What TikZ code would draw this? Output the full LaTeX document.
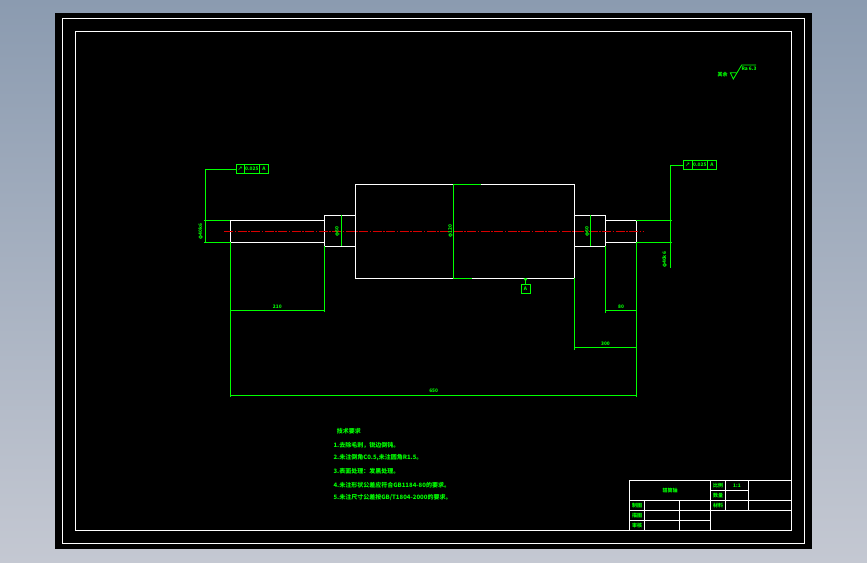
\documentclass[tikz,border=0pt]{standalone}
\usepackage{fontspec}
\usetikzlibrary{positioning}
\setmainfont{Noto Sans CJK SC}
\definecolor{bgtop}{RGB}{139,155,176}
\definecolor{bgbottom}{RGB}{196,200,210}
\tikzset{
	part/.style={draw=white,line width=1pt},
	dimline/.style={draw=green,line width=1pt},
	axisline/.style={draw=red!85!black,line width=.9pt,dash pattern=on 9pt off 1.5pt on 1.5pt off 1.5pt},
	dimtext/.style={text=green,font=\bfseries\fontsize{4.8}{5}\selectfont,inner sep=0pt},
	notetext/.style={text=green,font=\bfseries\fontsize{6}{7}\selectfont,inner sep=0pt,anchor=west},
	titletext/.style={text=green,font=\bfseries\fontsize{5}{6}\selectfont,inner sep=0pt},
	tolcell/.style={draw=green,line width=1pt,minimum height=9.4pt,inner sep=0pt,outer sep=0pt,text=green,font=\bfseries\fontsize{4.8}{5}\selectfont,anchor=west},
}
\begin{document}
\begin{tikzpicture}[x=1pt,y=-1pt]
	\useasboundingbox (0,0) rectangle (867,562);
	\fill[top color=bgtop,bottom color=bgbottom] (0,0) rectangle (867,562);
	\fill[black] (55,13) rectangle (812,549);
	\draw[part] (62,18.5) rectangle (804.5,543.5);
	\draw[part] (75.5,31.5) rectangle (791,530);
	% shaft
	\draw[part] (230.3,220.3) rectangle (324.3,242.3);
	\draw[part] (324.3,215.3) rectangle (355.3,246.3);
	\draw[part] (355.3,184.3) rectangle (574.3,278.3);
	\draw[part] (574.3,215.3) rectangle (605.3,246.3);
	\draw[part] (605.3,220.3) rectangle (636.3,242.3);
	\draw[axisline] (224,231.3)--(642.7,231.3);
	% diameters
	\draw[dimline] (204,220.3)--(230.3,220.3);
	\draw[dimline] (204,242.3)--(230.3,242.3);
	\draw[dimline] (341.3,215.3)--(341.3,246.3);
	\draw[dimline] (453.3,184.3)--(453.3,278.3);
	\draw[dimline] (453.3,184.3)--(481,184.3);
	\draw[dimline] (453.3,278.3)--(471.7,278.3);
	\draw[dimline] (590.3,215.3)--(590.3,246.3);
	\draw[dimline] (636.3,220.3)--(672,220.3);
	\draw[dimline] (636.3,242.3)--(672,242.3);
	\node[dimtext,rotate=90] (dleft) at (200.7,231.5){φ40k6};
	\node[dimtext,rotate=90] (dneck) at (337.3,231.3){φ60};
	\node[dimtext,rotate=90] (dbody) at (450.5,231.3){φ120};
	\node[dimtext,rotate=90] (dneckr) at (587.3,231.3){φ60};
	\node[dimtext,rotate=90] (dright) at (664.7,260){φ40k6};
	% lengths
	\draw[dimline] (230.3,242.3)--(230.3,397);
	\draw[dimline] (324.3,246.3)--(324.3,311.5);
	\draw[dimline] (230.3,310.3)--(324.3,310.3);
	\draw[dimline] (605.3,246.3)--(605.3,312.5);
	\draw[dimline] (605.3,310.3)--(636.3,310.3);
	\draw[dimline] (574.3,278.3)--(574.3,349.5);
	\draw[dimline] (574.3,347.3)--(636.3,347.3);
	\draw[dimline] (636.3,242.3)--(636.3,397);
	\draw[dimline] (230.3,395)--(636.3,395);
	\node[dimtext] (len210) at (277.3,306.8){210};
	\node[dimtext] (len80) at (621,306.5){80};
	\node[dimtext] (len300) at (605.5,343.8){300};
	\node[dimtext] (len650) at (433.7,391){650};
	% tolerance frames
	\node[tolcell,minimum width=8.3pt] (tola) at (236,169){↗};
	\node[tolcell,minimum width=15pt,right=0pt of tola] (tolb) {0.025};
	\node[tolcell,minimum width=9.4pt,right=0pt of tolb] (tolc) {A};
	\node[tolcell,minimum width=9pt] (tord) at (683.3,165){↗};
	\node[tolcell,minimum width=15pt,right=0pt of tord] (tore) {0.025};
	\node[tolcell,minimum width=9.4pt,right=0pt of tore] (torf) {A};
	\draw[dimline] (tola.west)-|(205.5,242.3);
	\draw[dimline] (tord.west)-|(670.3,267.7);
	% datum
	\node[tolcell,minimum width=9pt,minimum height=9.6pt,anchor=center] (datum) at (525.5,288.8){A};
	\coordinate (datumtop) at (525.5,278.3);
	\draw[dimline] (datum)--(datumtop);
	\fill[green] (523.5,278.3)--(527.5,278.3)--(525.5,281.5)--cycle;
	% roughness
	\node[titletext] (rest) at (722.5,75){其余};
	\node[dimtext] (rough) at (749,68.7){Ra 6.3};
	\draw[dimline,line width=.8pt] (736.2,72.7)--(730.3,72.7)--(733.3,79)--(741.7,65)--(756,65);
	% notes
	\node[notetext] (head) at (336.7,431.7){技术要求};
	\node[notetext] (noa) at (333.3,445){1.去除毛刺，锐边倒钝。};
	\node[notetext] (nob) at (333.3,458){2.未注倒角C0.5,未注圆角R1.5。};
	\node[notetext] (noc) at (333.3,471.6){3.表面处理：发黑处理。};
	\node[notetext] (nod) at (333.3,484.8){4.未注形状公差应符合GB1184-80的要求。};
	\node[notetext] (noe) at (333.3,497.7){5.未注尺寸公差按GB/T1804-2000的要求。};
	% title block
	\draw[part] (629.3,480.3) rectangle (791,530);
	\draw[part] (710.7,480.3)--(710.7,530);
	\draw[part] (725.3,480.3)--(725.3,510.3);
	\draw[part] (748.3,480.3)--(748.3,510.3);
	\draw[part] (710.7,490.3)--(748.3,490.3);
	\draw[part] (629.3,500.3)--(791,500.3);
	\draw[part] (629.3,510.3)--(791,510.3);
	\draw[part] (629.3,520.3)--(710.7,520.3);
	\draw[part] (644.3,500.3)--(644.3,530);
	\draw[part] (679.3,500.3)--(679.3,530);
	\node[titletext] (tname) at (670,491){辊筒轴};
	\node[titletext] (tscale) at (718,485.3){比例};
	\node[dimtext] (tratio) at (737,485.3){1:1};
	\node[titletext] (tcount) at (718,495.5){数量};
	\node[titletext] (tmat) at (718,505.5){材料};
	\node[titletext] (tdraw) at (637,505.5){制图};
	\node[titletext] (ttrace) at (637,515.5){描图};
	\node[titletext] (tcheck) at (637,525.5){审核};
\end{tikzpicture}
\end{document}
